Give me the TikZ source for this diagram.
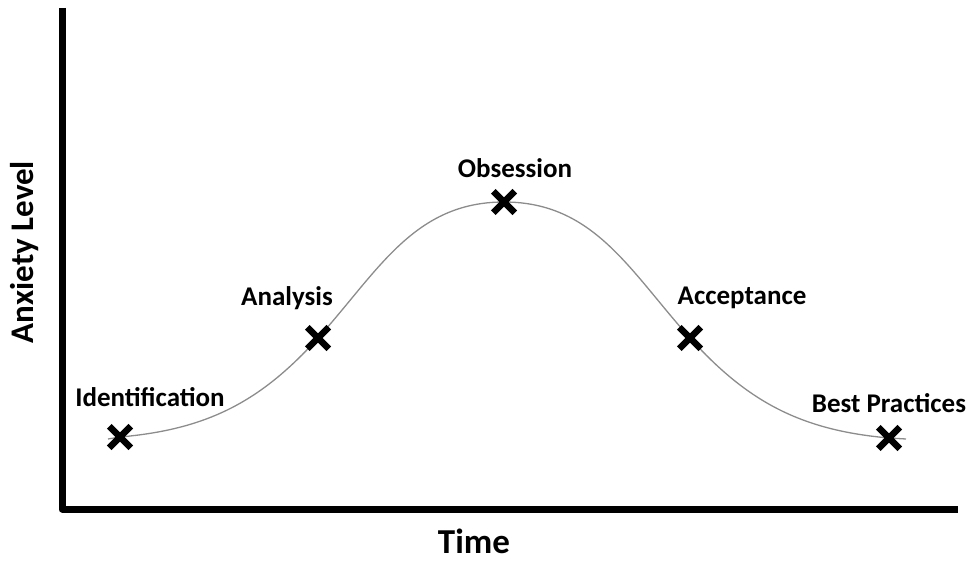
\documentclass[tikz,border=0pt]{standalone}
\usepackage{fontspec}
\setmainfont{Carlito}
\usetikzlibrary{shapes.misc}

\begin{document}
\begin{tikzpicture}[x=1pt, y=1pt, line join=round,
	stagelabel/.style={font=\fontsize{27}{32}\selectfont\bfseries, inner sep=0pt},
	axistitle/.style={font=\fontsize{33}{38}\selectfont\bfseries, inner sep=0pt},
	stagemark/.style={cross out, draw=black, line width=6.5pt, minimum size=15pt, inner sep=0pt},
	curveline/.style={black!45, line width=1.3pt}]
	\useasboundingbox (0,0) rectangle (971,560);
	
	% TRỤC
	\coordinate (top) at (62,552);
	\coordinate (orig) at (62,51);
	\coordinate (right) at (958,51);
	\draw[line width=7pt] (top) -- (orig) -- (right);
	\node[axistitle, font=\fontsize{35}{40}\selectfont\bfseries] (time) at (474,19) {Time};
	\node[axistitle, rotate=90] (anxiety) at (25,308) {Anxiety Level};
	
	% ĐƯỜNG CONG
	\coordinate (start) at (108,121);
	\coordinate (p1) at (120,123);
	\coordinate (p2) at (318,222);
	\coordinate (p3) at (504,358);
	\coordinate (p4) at (690,222);
	\coordinate (p5) at (889,122);
	\coordinate (end) at (906,121);
	\draw[curveline] (start) -- (p1) to[out=5, in=228] (p2) to[out=48, in=180] (p3)
		to[out=0, in=132] (p4) to[out=-48, in=175] (p5) -- (end);
	
	% CÁC GIAI ĐOẠN
	\node[stagemark] (ident) at (p1) {};
	\node[stagemark] (analysis) at (p2) {};
	\node[stagemark] (obsession) at (p3) {};
	\node[stagemark] (accept) at (p4) {};
	\node[stagemark] (best) at (p5) {};
	\node[stagelabel] (identlbl) at (150,163) {Identification};
	\node[stagelabel] (analysislbl) at (287,262) {Analysis};
	\node[stagelabel] (obsessionlbl) at (515,392) {Obsession};
	\node[stagelabel] (acceptlbl) at (742,262) {Acceptance};
	\node[stagelabel] (bestlbl) at (889,157) {Best Practices};
\end{tikzpicture}
\end{document}
